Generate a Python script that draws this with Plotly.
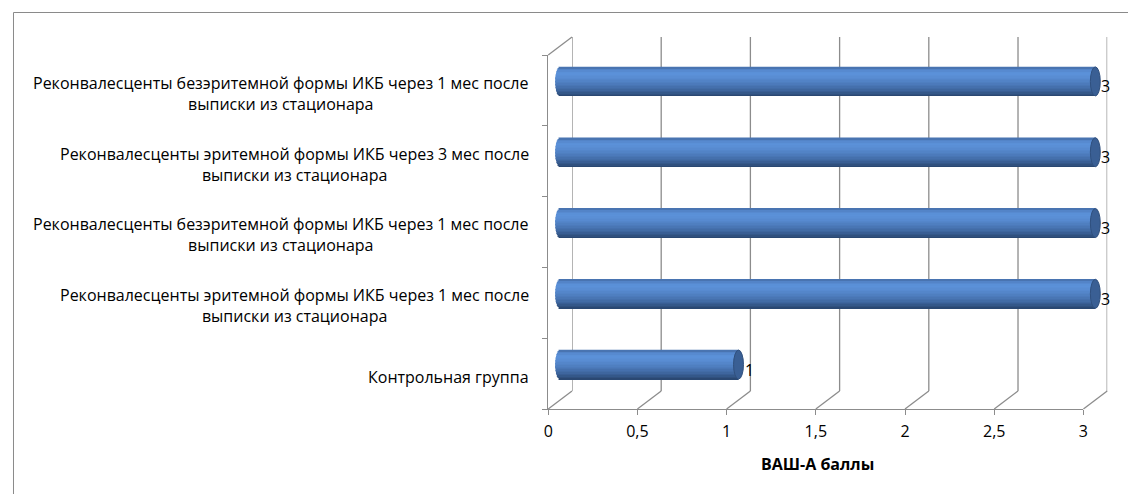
import math

import plotly.graph_objects as go

# data (bottom to top, as Excel draws it)
categories = [
    "Контрольная группа",
    "Реконвалесценты эритемной формы ИКБ через 1 мес после выписки из стационара",
    "Реконвалесценты безэритемной формы ИКБ через 1 мес после выписки из стационара",
    "Реконвалесценты эритемной формы ИКБ через 3 мес после выписки из стационара",
    "Реконвалесценты безэритемной формы ИКБ через 1 мес после выписки из стационара",
]
values = [1, 3, 3, 3, 3]
x_ticks = [0, 0.5, 1, 1.5, 2, 2.5, 3]
x_title = "ВАШ-А баллы"

# page body adds an 8px margin, so the figure is a bit smaller than the window
OFF = 8
W, H = 1136 - OFF, 494 - OFF
FONT = "Open Sans"
FS = 16
GRID = "#8c8c8c"


def px(x):
    return (x - OFF) / W


def py(y):
    return (H - (y - OFF)) / H


# pseudo-3D planes (pixel boxes in the window): front, bars (middle), back wall
front = dict(x0=548, x1=1088, y0=55, y1=409)
mid = dict(x0=560, x1=1100, y0=46, y1=400)
back = dict(x0=572, x1=1112, y0=37, y1=391)
XMAX = 3
PAD = 0.15  # extra range on the bar plane so caps are not clipped
pos = list(range(len(categories)))
unit_mid = (mid["x1"] - mid["x0"]) / XMAX

fig = go.Figure()

# cylinder shading: thin horizontal stripes
stops = [
    (0.0, (40, 68, 108)),
    (0.1, (50, 84, 132)),
    (0.25, (64, 105, 163)),
    (0.45, (78, 125, 190)),
    (0.65, (88, 140, 210)),
    (0.8, (92, 146, 218)),
    (0.92, (84, 134, 202)),
    (1.0, (68, 108, 165)),
]


def shade(t):
    for (t0, c0), (t1, c1) in zip(stops, stops[1:]):
        if t0 <= t <= t1:
            k = (t - t0) / (t1 - t0)
            return "rgb(%d,%d,%d)" % tuple(round(a + (b - a) * k) for a, b in zip(c0, c1))
    return "rgb(%d,%d,%d)" % stops[-1][1]


BW = 0.41  # bar thickness in category units
N = 20
cap = 5 / unit_mid  # cap half-width in data units
for j in range(N):
    t = (j + 0.5) / N
    s = (t - 0.5) * 2
    left = -cap * math.sqrt(max(0.0, 1 - s * s))
    fig.add_trace(go.Bar(
        y=pos, x=[v - left for v in values], base=[left] * len(values),
        orientation="h", width=BW / N * 1.15, offset=-BW / 2 + j * BW / N,
        marker=dict(color=shade(t), line=dict(width=0)),
        xaxis="x3", yaxis="y3", hoverinfo="skip", showlegend=False,
    ))

# dummy traces so the other subplots exist
fig.add_trace(go.Scatter(x=[0], y=[0], mode="markers", marker=dict(opacity=0),
                         xaxis="x", yaxis="y", hoverinfo="skip", showlegend=False))
fig.add_trace(go.Scatter(x=[0], y=[0], mode="markers", marker=dict(opacity=0),
                         xaxis="x2", yaxis="y2", hoverinfo="skip", showlegend=False))

shapes = []
# back wall vertical grid + floor diagonals
for t in x_ticks:
    shapes.append(dict(type="line", xref="x2", yref="paper", x0=t, x1=t,
                       y0=py(back["y1"]), y1=py(back["y0"]),
                       line=dict(color=GRID, width=1.3), layer="below"))
    xf = front["x0"] + t / XMAX * (front["x1"] - front["x0"])
    xb = back["x0"] + t / XMAX * (back["x1"] - back["x0"])
    shapes.append(dict(type="line", xref="paper", yref="paper", x0=px(xf), x1=px(xb),
                       y0=py(front["y1"]), y1=py(back["y1"]),
                       line=dict(color=GRID, width=1.3), layer="below"))
# top-left side diagonal
shapes.append(dict(type="line", xref="paper", yref="paper", x0=px(front["x0"]), x1=px(back["x0"]),
                   y0=py(front["y0"]), y1=py(back["y0"]),
                   line=dict(color=GRID, width=1.3), layer="below"))
# right end caps
for p, v in zip(pos, values):
    shapes.append(dict(type="circle", xref="x3", yref="y3",
                       x0=v - cap, x1=v + cap, y0=p - BW / 2, y1=p + BW / 2,
                       fillcolor="rgb(58,95,148)", line=dict(color="rgb(48,80,126)", width=1),
                       layer="above"))
# outer frame (top and left edges)
shapes.append(dict(type="line", xref="paper", yref="paper", x0=px(8.5), x1=1.02, y0=py(12.5), y1=py(12.5),
                   line=dict(color="#8a8a8a", width=1)))
shapes.append(dict(type="line", xref="paper", yref="paper", x0=px(8.5), x1=px(8.5), y0=py(12.5), y1=-0.02,
                   line=dict(color="#8a8a8a", width=1)))

annotations = []
for p, c in zip(pos, categories):
    annotations.append(dict(
        text=c.replace("после ", "после<br>"), xref="paper", yref="y", x=px(531), y=p,
        xanchor="right", yanchor="middle", align="center", yshift=-3, showarrow=False,
        font=dict(family=FONT, size=FS, color="#000000"),
    ))
for p, v in zip(pos, values):
    annotations.append(dict(
        text=str(v), xref="x3", yref="y3", x=v, y=p, xanchor="left", yanchor="middle",
        xshift=4, yshift=-5, showarrow=False, font=dict(family=FONT, size=FS, color="#000000"),
    ))
annotations.append(dict(
    text="<b>%s</b>" % x_title, xref="paper", yref="paper", x=px(820), y=py(464),
    xanchor="center", yanchor="middle", showarrow=False,
    font=dict(family=FONT, size=FS, color="#000000"),
))

axis_off = dict(visible=False, showgrid=False, zeroline=False, fixedrange=True)
fig.update_layout(
    width=W, height=H,
    margin=dict(l=0, r=0, t=0, b=0),
    paper_bgcolor="white", plot_bgcolor="rgba(0,0,0,0)",
    separators=", ",
    barmode="overlay",
    showlegend=False,
    xaxis=dict(domain=[px(front["x0"]), px(front["x1"])], range=[0, XMAX], anchor="y",
               tickvals=x_ticks, ticks="outside", ticklen=5, tickcolor=GRID,
               showline=True, linecolor=GRID, linewidth=1.3, showgrid=False, zeroline=False,
               tickfont=dict(family=FONT, size=FS, color="#000000"), ticklabelstandoff=3),
    yaxis=dict(domain=[py(front["y1"]), py(front["y0"])], range=[-0.5, len(categories) - 0.5],
               anchor="x", tickvals=[k - 0.5 for k in range(len(categories) + 1)],
               ticks="outside", ticklen=5, tickcolor=GRID, showticklabels=False,
               showline=True, linecolor=GRID, linewidth=1.3, showgrid=False, zeroline=False),
    xaxis2=dict(domain=[px(back["x0"]), px(back["x1"])], range=[0, XMAX], anchor="y2", **axis_off),
    yaxis2=dict(domain=[py(back["y1"]), py(back["y0"])], range=[-0.5, len(categories) - 0.5],
                anchor="x2", **axis_off),
    xaxis3=dict(domain=[px(mid["x0"] - PAD * unit_mid), px(mid["x1"] + PAD * unit_mid)],
                range=[-PAD, XMAX + PAD], anchor="y3", **axis_off),
    yaxis3=dict(domain=[py(mid["y1"]), py(mid["y0"])], range=[-0.5, len(categories) - 0.5],
                anchor="x3", **axis_off),
    shapes=shapes,
    annotations=annotations,
)

fig.write_html("out.html")
